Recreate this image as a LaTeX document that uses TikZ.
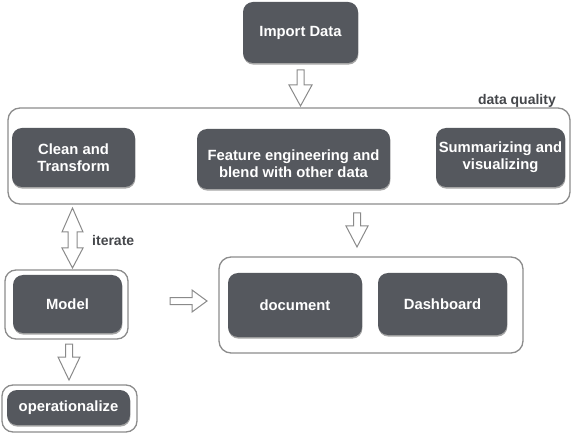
\documentclass[tikz,border=0pt]{standalone}
\usepackage{fontspec}
\setmainfont{Liberation Sans}
\usetikzlibrary{shadows}
\definecolor{boxgray}{HTML}{55585E}
\definecolor{framegray}{HTML}{8C8C8C}
\definecolor{labelgray}{HTML}{45474B}
\definecolor{arrowgray}{HTML}{8A8A8A}
\tikzset{
  boxtext/.style={text=white, font=\fontsize{14.8}{17}\selectfont\bfseries, align=center, inner sep=0pt},
  darkbox/.style={boxtext, draw=none, fill=boxgray, rounded corners=10pt,
    drop shadow={shadow xshift=0.4pt, shadow yshift=-1.6pt, opacity=0.35, fill=black}},
  frame/.style={draw=framegray, line width=1.3pt, fill=white, rounded corners=12pt, inner sep=0pt},
  blockarrow/.style={draw=arrowgray, line width=1pt, fill=white, line join=miter},
  lbl/.style={text=labelgray, font=\fontsize{14}{16}\selectfont\bfseries, inner sep=0pt}
}
\begin{document}
\begin{tikzpicture}[x=1pt,y=-1pt]
\useasboundingbox (0,0) rectangle (572,435);
% containers
\node[frame, minimum width=562pt, minimum height=96pt] (dq) at (289,156) {};
\node[frame, minimum width=304pt, minimum height=96pt] (out) at (371,305) {};
\node[frame, minimum width=123pt, minimum height=69pt, rounded corners=11pt] (modelframe) at (66.5,304.5) {};
\node[frame, minimum width=135pt, minimum height=47pt, rounded corners=11pt] (opframe) at (69.5,408.5) {};
% dark boxes
\node[darkbox, minimum width=115pt, minimum height=61pt] (import) at (300.5,32.5) {Import Data};
\node[darkbox, minimum width=123pt, minimum height=59pt] (clean) at (73.5,157.5) {Clean and\\Transform};
\node[darkbox, minimum width=193pt, minimum height=60pt] (feature) at (293.5,159) {};
\node[boxtext] (featuretext) at (293.5,164) {Feature engineering and\\blend with other data};
\node[darkbox, minimum width=129pt, minimum height=59pt] (summ) at (500.5,157.5) {Summarizing and\\visualizing};
\node[darkbox, minimum width=134pt, minimum height=64pt] (doc) at (295,305) {document};
\node[darkbox, minimum width=129pt, minimum height=62pt] (dash) at (442.5,304) {Dashboard};
\node[darkbox, minimum width=109pt, minimum height=58pt] (model) at (67.5,304) {Model};
\node[darkbox, minimum width=123pt, minimum height=35pt] (oper) at (68.5,407.5) {operationalize};
% labels
\node[lbl, anchor=east] (dqlabel) at (556,101) {data quality};
\node[lbl, anchor=west] (itlabel) at (92,240) {iterate};
% block arrows
\draw[blockarrow] (297,70) -- (304,70) -- (304,85) -- (312,85) -- (300.5,106) -- (289,85) -- (297,85) -- cycle;
\draw[blockarrow] (353.5,213) -- (360.5,213) -- (360.5,226) -- (368,226) -- (357,247) -- (346,226) -- (353.5,226) -- cycle;
\draw[blockarrow] (170,297.5) -- (192,297.5) -- (192,290) -- (207,301) -- (192,312) -- (192,304.5) -- (170,304.5) -- cycle;
\draw[blockarrow] (72.5,208) -- (83,232) -- (77,232) -- (77,248) -- (83,248) -- (72.5,268) -- (62,248) -- (68,248) -- (68,232) -- (62,232) -- cycle;
\draw[blockarrow] (65.5,344) -- (72.5,344) -- (72.5,357) -- (80,357) -- (69,380) -- (58,357) -- (65.5,357) -- cycle;
\end{tikzpicture}
\end{document}
